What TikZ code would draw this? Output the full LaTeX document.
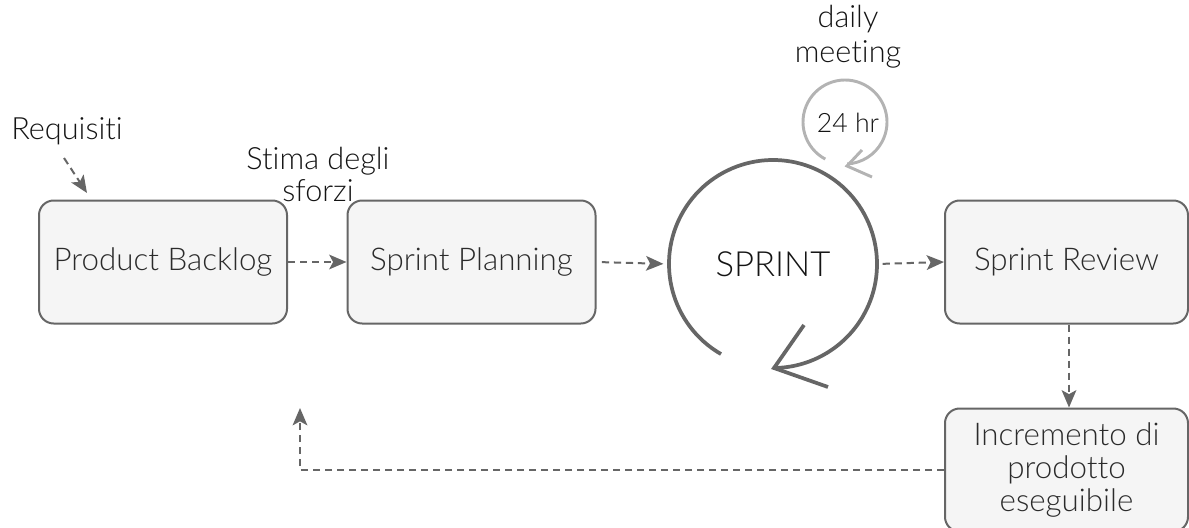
\documentclass[tikz,border=0pt]{standalone}
\usepackage{fontspec}
\setmainfont{Lato}[UprightFont=* Light, Ligatures={NoCommon}]
\usetikzlibrary{arrows.meta}
\definecolor{boxfill}{HTML}{F5F5F5}
\definecolor{boxline}{HTML}{666666}
\definecolor{boxtext}{HTML}{2B2B2B}
\definecolor{labeltext}{HTML}{141414}
\definecolor{loopgrey}{HTML}{B3B3B3}
\tikzset{
  stepbox/.style={draw=boxline, line width=1.5pt, fill=boxfill, rounded corners=11pt,
    minimum width=186pt, minimum height=92.25pt, text=boxtext, align=center,
    font=\fontsize{23.5}{24.5}\selectfont, inner sep=0pt},
  flow/.style={draw=boxline, line width=1.5pt, dash pattern=on 5.5pt off 3.5pt,
    -{Stealth[length=13pt, width=11pt, inset=3pt]}},
  label/.style={text=labeltext, align=center, font=\fontsize{23}{24}\selectfont, inner sep=0pt},
  bigloop/.style={draw=boxline, line width=2.8pt},
  smallloop/.style={draw=loopgrey, line width=2.2pt},
}
\begin{document}
\begin{tikzpicture}[x=0.75pt, y=-0.75pt]
  \useasboundingbox (0,0) rectangle (1189,528);

  % process boxes
  \node[stepbox] (pb) at (163,262) {Product Backlog};
  \node[stepbox] (sp) at (471.5,262) {Sprint Planning};
  \node[stepbox, minimum width=182.25pt] (sr) at (1066.5,262) {Sprint Review};
  \node[stepbox, minimum width=182.25pt] (inc) at (1066.5,470)
    {Incremento di\\prodotto\\eseguibile};

  % sprint cycle
  \node[circle, minimum size=156pt, inner sep=0pt, text=labeltext,
    font=\fontsize{26}{28}\selectfont] (sprint) at (773,264) {SPRINT};
  \coordinate (sprintTip) at (774,368);
  \draw[bigloop] ([shift={(120:104)}]sprint.center) arc[start angle=120, end angle=450, radius=104];
  \draw[bigloop, line join=miter] (804,325) -- (sprintTip) -- (828,387);

  % daily loop
  \node[inner sep=0pt, text=labeltext, font=\fontsize{20}{22}\selectfont] (day) at (848,123) {24 hr};
  \coordinate (dayCenter) at (845,122);
  \coordinate (dayTip) at (847,166);
  \draw[smallloop] ([shift={(118:42)}]dayCenter) arc[start angle=118, end angle=447, radius=42];
  \draw[smallloop, line join=miter] (862,150) -- (dayTip) -- (872,177);

  % labels
  \node[label] (req) at (67,131) {Requisiti};
  \node[label] (stima) at (318,174) {Stima degli\\sforzi};
  \node[label, font=\fontsize{23}{26}\selectfont] (daily) at (848,37) {daily\\meeting};

  % connectors
  \coordinate (reqFrom) at (64,158);
  \coordinate (reqTo) at (87,193);
  \draw[flow] (reqFrom) -- (reqTo);
  \draw[flow] (pb.east) -- (sp.west);
  \draw[flow, shorten <=4pt, shorten >=4pt] (sp.east) -- (sprint.west);
  \draw[flow, shorten <=4pt, shorten >=0pt] (sprint.east) -- (sr.west);
  \draw[flow] (sr.south -| 1069,0) -- (inc.north -| 1069,0);
  \coordinate (backEnd) at (300,408);
  \draw[flow] (inc.west) -| (backEnd);
\end{tikzpicture}
\end{document}
